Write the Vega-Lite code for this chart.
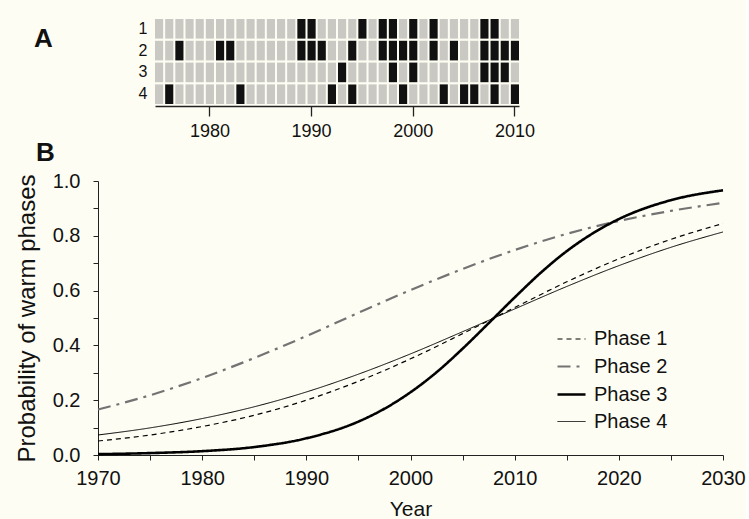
{
  "$schema": "https://vega.github.io/schema/vega-lite/v6.json",
  "background": "#fefdf3",
  "padding": {"left": 15, "top": 19, "right": 0, "bottom": 0},
  "spacing": 0,
  "config": {
    "font": "Liberation Sans",
    "view": {"stroke": null},
    "axis": {"domainColor": "#222222", "tickColor": "#222222", "labelColor": "#111111", "titleColor": "#111111", "grid": false, "titleFontWeight": "normal"}
  },
  "datasets": {
    "cells": [
      {"year": 1975, "1": 0, "2": 0, "3": 0, "4": 0},
      {"year": 1976, "1": 0, "2": 0, "3": 0, "4": 1},
      {"year": 1977, "1": 0, "2": 1, "3": 0, "4": 0},
      {"year": 1978, "1": 0, "2": 0, "3": 0, "4": 0},
      {"year": 1979, "1": 0, "2": 0, "3": 0, "4": 0},
      {"year": 1980, "1": 0, "2": 0, "3": 0, "4": 0},
      {"year": 1981, "1": 0, "2": 1, "3": 0, "4": 0},
      {"year": 1982, "1": 0, "2": 1, "3": 0, "4": 0},
      {"year": 1983, "1": 0, "2": 0, "3": 0, "4": 1},
      {"year": 1984, "1": 0, "2": 0, "3": 0, "4": 0},
      {"year": 1985, "1": 0, "2": 0, "3": 0, "4": 0},
      {"year": 1986, "1": 0, "2": 0, "3": 0, "4": 0},
      {"year": 1987, "1": 0, "2": 0, "3": 0, "4": 0},
      {"year": 1988, "1": 0, "2": 0, "3": 0, "4": 0},
      {"year": 1989, "1": 1, "2": 1, "3": 0, "4": 0},
      {"year": 1990, "1": 1, "2": 1, "3": 0, "4": 0},
      {"year": 1991, "1": 0, "2": 1, "3": 0, "4": 0},
      {"year": 1992, "1": 0, "2": 0, "3": 0, "4": 1},
      {"year": 1993, "1": 0, "2": 0, "3": 1, "4": 0},
      {"year": 1994, "1": 0, "2": 1, "3": 0, "4": 1},
      {"year": 1995, "1": 1, "2": 0, "3": 0, "4": 0},
      {"year": 1996, "1": 0, "2": 0, "3": 0, "4": 0},
      {"year": 1997, "1": 1, "2": 1, "3": 0, "4": 0},
      {"year": 1998, "1": 1, "2": 1, "3": 1, "4": 0},
      {"year": 1999, "1": 0, "2": 1, "3": 0, "4": 1},
      {"year": 2000, "1": 1, "2": 1, "3": 1, "4": 0},
      {"year": 2001, "1": 0, "2": 0, "3": 0, "4": 0},
      {"year": 2002, "1": 1, "2": 1, "3": 0, "4": 0},
      {"year": 2003, "1": 0, "2": 0, "3": 0, "4": 1},
      {"year": 2004, "1": 0, "2": 1, "3": 0, "4": 0},
      {"year": 2005, "1": 0, "2": 0, "3": 0, "4": 1},
      {"year": 2006, "1": 0, "2": 0, "3": 0, "4": 1},
      {"year": 2007, "1": 1, "2": 1, "3": 1, "4": 0},
      {"year": 2008, "1": 1, "2": 1, "3": 1, "4": 1},
      {"year": 2009, "1": 0, "2": 1, "3": 1, "4": 0},
      {"year": 2010, "1": 0, "2": 1, "3": 0, "4": 1}
    ],
    "curves": [
      {"phase": "Phase 1", "year": 1970, "p": 0.051},
      {"phase": "Phase 1", "year": 1975, "p": 0.073},
      {"phase": "Phase 1", "year": 1980, "p": 0.104},
      {"phase": "Phase 1", "year": 1985, "p": 0.145},
      {"phase": "Phase 1", "year": 1990, "p": 0.200},
      {"phase": "Phase 1", "year": 1995, "p": 0.269},
      {"phase": "Phase 1", "year": 2000, "p": 0.351},
      {"phase": "Phase 1", "year": 2005, "p": 0.443},
      {"phase": "Phase 1", "year": 2010, "p": 0.538},
      {"phase": "Phase 1", "year": 2015, "p": 0.632},
      {"phase": "Phase 1", "year": 2020, "p": 0.716},
      {"phase": "Phase 1", "year": 2025, "p": 0.787},
      {"phase": "Phase 1", "year": 2030, "p": 0.845},
      {"phase": "Phase 2", "year": 1970, "p": 0.166},
      {"phase": "Phase 2", "year": 1975, "p": 0.218},
      {"phase": "Phase 2", "year": 1980, "p": 0.281},
      {"phase": "Phase 2", "year": 1985, "p": 0.354},
      {"phase": "Phase 2", "year": 1990, "p": 0.434},
      {"phase": "Phase 2", "year": 1995, "p": 0.519},
      {"phase": "Phase 2", "year": 2000, "p": 0.602},
      {"phase": "Phase 2", "year": 2005, "p": 0.679},
      {"phase": "Phase 2", "year": 2010, "p": 0.748},
      {"phase": "Phase 2", "year": 2015, "p": 0.807},
      {"phase": "Phase 2", "year": 2020, "p": 0.854},
      {"phase": "Phase 2", "year": 2025, "p": 0.891},
      {"phase": "Phase 2", "year": 2030, "p": 0.920},
      {"phase": "Phase 3", "year": 1970, "p": 0.003},
      {"phase": "Phase 3", "year": 1975, "p": 0.007},
      {"phase": "Phase 3", "year": 1980, "p": 0.014},
      {"phase": "Phase 3", "year": 1985, "p": 0.029},
      {"phase": "Phase 3", "year": 1990, "p": 0.061},
      {"phase": "Phase 3", "year": 1995, "p": 0.122},
      {"phase": "Phase 3", "year": 1997.5, "p": 0.169},
      {"phase": "Phase 3", "year": 2000, "p": 0.229},
      {"phase": "Phase 3", "year": 2002.5, "p": 0.302},
      {"phase": "Phase 3", "year": 2005, "p": 0.388},
      {"phase": "Phase 3", "year": 2007.5, "p": 0.481},
      {"phase": "Phase 3", "year": 2010, "p": 0.575},
      {"phase": "Phase 3", "year": 2012.5, "p": 0.665},
      {"phase": "Phase 3", "year": 2015, "p": 0.744},
      {"phase": "Phase 3", "year": 2017.5, "p": 0.809},
      {"phase": "Phase 3", "year": 2020, "p": 0.861},
      {"phase": "Phase 3", "year": 2025, "p": 0.930},
      {"phase": "Phase 3", "year": 2030, "p": 0.966},
      {"phase": "Phase 4", "year": 1970, "p": 0.073},
      {"phase": "Phase 4", "year": 1975, "p": 0.099},
      {"phase": "Phase 4", "year": 1980, "p": 0.133},
      {"phase": "Phase 4", "year": 1985, "p": 0.176},
      {"phase": "Phase 4", "year": 1990, "p": 0.230},
      {"phase": "Phase 4", "year": 1995, "p": 0.295},
      {"phase": "Phase 4", "year": 2000, "p": 0.369},
      {"phase": "Phase 4", "year": 2005, "p": 0.450},
      {"phase": "Phase 4", "year": 2010, "p": 0.533},
      {"phase": "Phase 4", "year": 2015, "p": 0.615},
      {"phase": "Phase 4", "year": 2020, "p": 0.691},
      {"phase": "Phase 4", "year": 2025, "p": 0.758},
      {"phase": "Phase 4", "year": 2030, "p": 0.814}
    ]
  },
  "vconcat": [
    {
      "width": 440,
      "height": 85,
      "title": {"text": "A", "orient": "top", "anchor": "start", "frame": "group", "fontSize": 26, "fontWeight": "bold", "color": "#111111", "dx": -64, "dy": 33, "offset": 0},
      "data": {"name": "cells"},
      "transform": [{"fold": ["1", "2", "3", "4"], "as": ["row", "warm"]}],
      "mark": {"type": "rect"},
      "encoding": {
        "x": {
          "field": "year", "type": "ordinal",
          "scale": {"range": [57, 421], "paddingInner": 0.2, "paddingOuter": 0},
          "axis": {"values": [1980, 1990, 2000, 2010], "title": null, "labelAngle": 0, "tickSize": 10, "tickWidth": 1.3, "domainWidth": 1.3, "labelFontSize": 18, "labelPadding": 6, "offset": 2}
        },
        "y": {
          "field": "row", "type": "ordinal",
          "scale": {"paddingInner": 0.1, "paddingOuter": 0},
          "axis": {"title": null, "domain": false, "ticks": false, "labelFontSize": 16, "labelPadding": 3, "offset": -52}
        },
        "fill": {"field": "warm", "type": "nominal", "scale": {"domain": [0, 1], "range": ["#c9c8c3", "#111111"]}, "legend": null}
      }
    },
    {
      "width": 625,
      "height": 274,
      "title": {"text": "B", "orient": "top", "anchor": "start", "frame": "group", "fontSize": 26, "fontWeight": "bold", "color": "#111111", "dx": -62, "offset": 5},
      "data": {"name": "curves"},
      "mark": {"type": "line", "interpolate": "monotone"},
      "encoding": {
        "x": {
          "field": "year", "type": "quantitative",
          "scale": {"domain": [1970, 2030], "nice": false, "zero": false},
          "axis": {"title": "Year", "values": [1970, 1975, 1980, 1985, 1990, 1995, 2000, 2005, 2010, 2015, 2020, 2025, 2030], "format": "d", "labelExpr": "datum.value % 10 == 0 ? datum.label : ''", "tickSize": 5, "labelFontSize": 20, "labelPadding": 8, "labelFlush": false, "titleFontSize": 21, "titlePadding": 10}
        },
        "y": {
          "field": "p", "type": "quantitative",
          "scale": {"domain": [0, 1], "nice": false},
          "axis": {"title": "Probability of warm phases", "values": [0, 0.1, 0.2, 0.3, 0.4, 0.5, 0.6, 0.7, 0.8, 0.9, 1], "format": ".1f", "labelExpr": "round(datum.value * 10) % 2 == 0 ? datum.label : ''", "tickSize": 5, "labelFontSize": 20, "labelPadding": 13, "labelFlush": false, "titleFontSize": 24, "titlePadding": 13}
        },
        "color": {
          "field": "phase", "type": "nominal",
          "scale": {"domain": ["Phase 1", "Phase 2", "Phase 3", "Phase 4"], "range": ["#000000", "#737373", "#000000", "#000000"]},
          "legend": {"orient": "none", "legendX": 458, "legendY": 305, "title": null, "symbolType": "stroke", "symbolSize": 784, "labelFontSize": 20, "labelColor": "#111111", "labelOffset": 7, "rowPadding": 2, "padding": 0}
        },
        "strokeDash": {
          "field": "phase", "type": "nominal",
          "scale": {"domain": ["Phase 1", "Phase 2", "Phase 3", "Phase 4"], "range": [[5, 4], [13, 6, 3, 6], [1, 0], [1, 0]]}
        },
        "strokeWidth": {
          "field": "phase", "type": "nominal",
          "scale": {"type": "ordinal", "domain": ["Phase 1", "Phase 2", "Phase 3", "Phase 4"], "range": [1.2, 2.2, 2.6, 1]}
        }
      }
    }
  ]
}
